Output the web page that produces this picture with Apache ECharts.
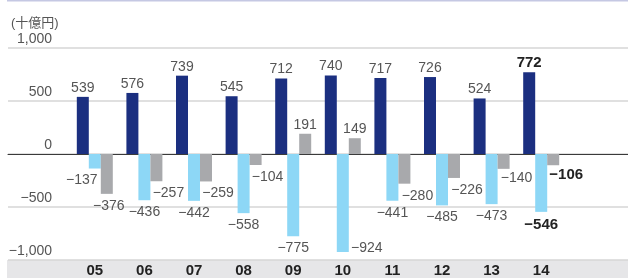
<!DOCTYPE html>
<html>
<head>
<meta charset="utf-8">
<script src="https://cdn.jsdelivr.net/npm/echarts@6/dist/echarts.min.js"></script>
<style>
  html, body { margin: 0; padding: 0; background: #fff; }
  #chart { width: 628px; height: 278px; }
</style>
</head>
<body>
<div id="chart"></div>
<script>
// values in billions of yen (十億円)
var years = ['05', '06', '07', '08', '09', '10', '11', '12', '13', '14'];
var navyValues = [539, 576, 739, 545, 712, 740, 717, 726, 524, 772];
var lightValues = [-137, -436, -442, -558, -775, -924, -441, -485, -473, -546];
var grayValues = [-376, -257, -259, -104, 191, 149, -280, -226, -140, -106];
var yTicks = [-1000, -500, 0, 500, 1000];

var FONT = '"Liberation Sans", Arial, sans-serif';
var lastIdx = years.length - 1;

// per-item label nudges so neighbouring labels don't collide
var lightOffsets = { 0: [-13, 0], 5: [24, -16] };
var grayOffsets = { 0: [2, 0], 1: [12, 0], 2: [12, 0], 3: [12, 0], 6: [13, 0], 7: [13, 0], 8: [13, -3], 9: [13, -3] };

function boldLabel(lbl) {
  lbl.color = '#222';
  lbl.fontWeight = 'bold';
  lbl.fontSize = 15;
  return lbl;
}

function makeData(values, offsets) {
  return values.map(function (v, i) {
    var lbl = {};
    if (v < 0) {
      lbl.position = 'bottom';
    } else {
      lbl.position = 'top';
      lbl.distance = 2;
    }
    if (offsets && offsets[i]) lbl.offset = offsets[i];
    if (i === lastIdx) boldLabel(lbl);
    return { value: v, label: lbl };
  });
}

function fmt(v) {
  var s = Math.abs(v).toLocaleString('en-US');
  return v < 0 ? '\u2212' + s : s;
}

var baseLabel = {
  show: true,
  fontFamily: FONT,
  fontSize: 14,
  color: '#555',
  formatter: function (p) { return fmt(p.value); }
};

var chart = echarts.init(document.getElementById('chart'));
chart.setOption({
  animation: false,
  title: {
    text: '(十億円)',
    left: 6,
    top: 12,
    textStyle: { fontFamily: '"Liberation Sans", "Noto Sans CJK JP", sans-serif', fontSize: 13, fontWeight: 'normal', color: '#555' }
  },
  graphic: [
    { type: 'rect', z: -1, shape: { x: 7, y: 0, width: 621, height: 1.5 }, style: { fill: '#c5c8e3' } },
    { type: 'rect', z: -1, shape: { x: 7, y: 260, width: 621, height: 18 }, style: { fill: '#e6e6e8' } }
  ],
  grid: [
    { left: 8, right: 0, top: 48, bottom: 18 },
    { left: 70, right: 62, top: 48, bottom: 18 }
  ],
  xAxis: [
    {
      gridIndex: 0, type: 'value', min: 0, max: 1,
      axisLine: { show: true, onZero: true, lineStyle: { color: '#3a3a3a', width: 1 } },
      axisTick: { show: false }, axisLabel: { show: false }, splitLine: { show: false }
    },
    {
      gridIndex: 1, type: 'category', data: years,
      axisLine: { show: false, onZero: false },
      axisTick: { show: false },
      axisLabel: { margin: 3, fontFamily: FONT, fontSize: 15, fontWeight: 'bold', color: '#222' }
    }
  ],
  yAxis: [
    {
      gridIndex: 0, type: 'value', min: yTicks[0], max: yTicks[yTicks.length - 1], interval: 500,
      axisLine: { show: false }, axisTick: { show: false }, axisLabel: { show: false },
      splitLine: { show: true, lineStyle: { color: '#d6d6d6', width: 1.5 } }
    },
    {
      gridIndex: 1, type: 'value', min: yTicks[0], max: yTicks[yTicks.length - 1], interval: 500,
      axisLine: { show: false }, axisTick: { show: false }, splitLine: { show: false },
      axisLabel: {
        margin: 18, fontFamily: FONT, fontSize: 14, color: '#555',
        verticalAlign: 'bottom', lineHeight: 17,
        formatter: function (v) { return fmt(v); }
      }
    }
  ],
  series: [
    {
      type: 'bar', xAxisIndex: 1, yAxisIndex: 1, barWidth: 12, barGap: '0%',
      itemStyle: { color: '#1b2f80' }, label: baseLabel,
      data: makeData(navyValues)
    },
    {
      type: 'bar', xAxisIndex: 1, yAxisIndex: 1, barWidth: 12, barGap: '0%',
      itemStyle: { color: '#8dd7f6' }, label: baseLabel,
      data: makeData(lightValues, lightOffsets)
    },
    {
      type: 'bar', xAxisIndex: 1, yAxisIndex: 1, barWidth: 12, barGap: '0%',
      itemStyle: { color: '#a8a9ac' }, label: baseLabel,
      data: makeData(grayValues, grayOffsets)
    }
  ]
});
</script>
</body>
</html>
